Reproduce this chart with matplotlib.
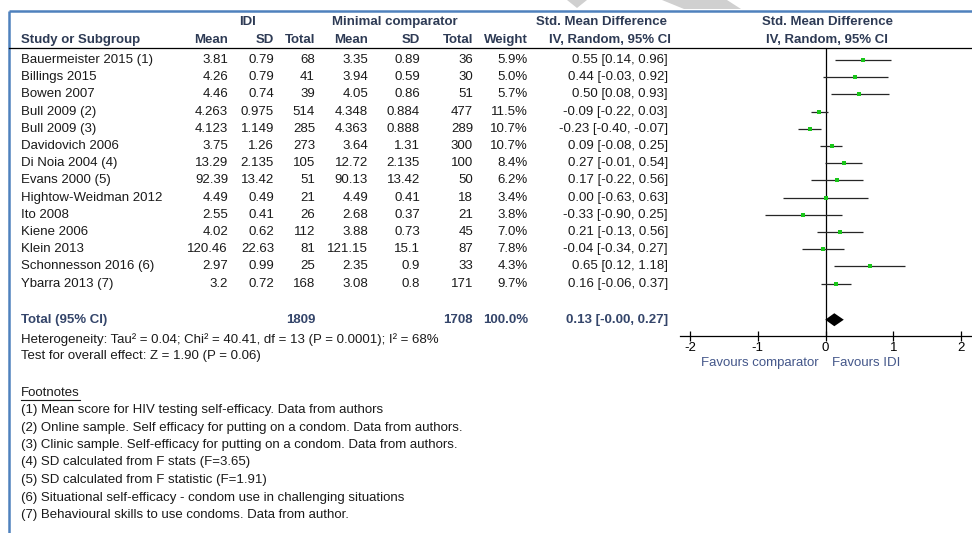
import matplotlib
matplotlib.use("Agg")
import matplotlib.pyplot as plt
from matplotlib.patches import Polygon
import numpy as np

plt.rcParams['font.family'] = ['Liberation Sans', 'DejaVu Sans']
plt.rcParams['axes.unicode_minus'] = False

# ---- data -------------------------------------------------------------
studies = ["Bauermeister 2015 (1)", "Billings 2015", "Bowen 2007", "Bull 2009 (2)",
           "Bull 2009 (3)", "Davidovich 2006", "Di Noia 2004 (4)", "Evans 2000 (5)",
           "Hightow-Weidman 2012", "Ito 2008", "Kiene 2006", "Klein 2013",
           "Schonnesson 2016 (6)", "Ybarra 2013 (7)"]
idi_mean = [3.81, 4.26, 4.46, 4.263, 4.123, 3.75, 13.29, 92.39, 4.49, 2.55, 4.02, 120.46, 2.97, 3.2]
idi_sd = [0.79, 0.79, 0.74, 0.975, 1.149, 1.26, 2.135, 13.42, 0.49, 0.41, 0.62, 22.63, 0.99, 0.72]
idi_n = [68, 41, 39, 514, 285, 273, 105, 51, 21, 26, 112, 81, 25, 168]
cmp_mean = [3.35, 3.94, 4.05, 4.348, 4.363, 3.64, 12.72, 90.13, 4.49, 2.68, 3.88, 121.15, 2.35, 3.08]
cmp_sd = [0.89, 0.59, 0.86, 0.884, 0.888, 1.31, 2.135, 13.42, 0.41, 0.37, 0.73, 15.1, 0.9, 0.8]
cmp_n = [36, 30, 51, 477, 289, 300, 100, 50, 18, 21, 45, 87, 33, 171]
weight = [5.9, 5.0, 5.7, 11.5, 10.7, 10.7, 8.4, 6.2, 3.4, 3.8, 7.0, 7.8, 4.3, 9.7]
smd = [0.55, 0.44, 0.50, -0.09, -0.23, 0.09, 0.27, 0.17, 0.00, -0.33, 0.21, -0.04, 0.65, 0.16]
ci_lo = [0.14, -0.03, 0.08, -0.22, -0.40, -0.08, -0.01, -0.22, -0.63, -0.90, -0.13, -0.34, 0.12, -0.06]
ci_hi = [0.96, 0.92, 0.93, 0.03, -0.07, 0.25, 0.54, 0.56, 0.63, 0.25, 0.56, 0.27, 1.18, 0.37]

total_idi_n = 1809
total_cmp_n = 1708
total_weight = 100.0
total_smd = 0.13
total_lo = -0.004
total_hi = 0.27

xticks = [-2, -1, 0, 1, 2]

heterogeneity = "Heterogeneity: Tau\u00b2 = 0.04; Chi\u00b2 = 40.41, df = 13 (P = 0.0001); I\u00b2 = 68%"
overall = "Test for overall effect: Z = 1.90 (P = 0.06)"
footnotes = ["(1) Mean score for HIV testing self-efficacy. Data from authors",
             "(2) Online sample. Self efficacy for putting on a condom. Data from authors.",
             "(3) Clinic sample. Self-efficacy for putting on a condom. Data from authors.",
             "(4) SD calculated from F stats (F=3.65)",
             "(5) SD calculated from F statistic (F=1.91)",
             "(6) Situational self-efficacy - condom use in challenging situations",
             "(7) Behavioural skills to use condoms. Data from author."]

# ---- layout (pixel units) ---------------------------------------------
W, H = 972, 533
FS = 9.5
ROW0, ROWH = 60.0, 17.2
TOTAL_IDX = 15.1
HEAD_COL = "#2e3b55"
TOTAL_COL = "#34456a"
BODY_COL = "#1a1a1a"
BORDER = "#4f81bd"

fig = plt.figure(figsize=(W / 100, H / 100), dpi=100)
bg = fig.add_axes([0, 0, 1, 1])
bg.set_xlim(0, W)
bg.set_ylim(H, 0)
bg.axis("off")


def row_y(i):
    return ROW0 + ROWH * i


def txt(x, y, s, ha="left", bold=False, color=BODY_COL, **kw):
    return bg.text(x, y, s, ha=ha, va="center", fontsize=FS,
                   fontweight="bold" if bold else "normal", color=color, **kw)


def fmt(v):
    return f"{v:g}"


def ci_text(e, lo, hi):
    return f"{e:.2f} [{lo:.2f}, {hi:.2f}]"


# faint grey shapes at the very top edge
bg.add_patch(Polygon([(567, 0), (587, 0), (577, 8)], closed=True, color="#d0d0d0", lw=0))
bg.add_patch(Polygon([(662, 0), (727, 0), (741, 9), (684, 9)], closed=True, color="#d0d0d0", lw=0))

# frame lines
bg.plot([9, W], [11, 11], color=BORDER, lw=1.8, solid_capstyle="butt")
bg.plot([9, 9], [11, H], color=BORDER, lw=1.8, solid_capstyle="butt")
bg.plot([9, W], [48, 48], color="black", lw=0.9)

# column positions (right edges)
X_NAME = 21
X_IM, X_IS, X_IN = 228, 274, 315
X_CM, X_CS, X_CN, X_W = 368, 420, 473, 528
X_CI = 668

# headers
txt(247, 22, "IDI", ha="center", bold=True, color=HEAD_COL)
txt(395, 22, "Minimal comparator", ha="center", bold=True, color=HEAD_COL)
txt(601, 22, "Std. Mean Difference", ha="center", bold=True, color=HEAD_COL)
txt(827, 22, "Std. Mean Difference", ha="center", bold=True, color=HEAD_COL)
txt(X_NAME, 40, "Study or Subgroup", bold=True, color=HEAD_COL)
for x, s in [(X_IM, "Mean"), (X_IS, "SD"), (X_IN, "Total"), (X_CM, "Mean"),
             (X_CS, "SD"), (X_CN, "Total"), (X_W, "Weight")]:
    txt(x, 40, s, ha="right", bold=True, color=HEAD_COL)
txt(610, 40, "IV, Random, 95% CI", ha="center", bold=True, color=HEAD_COL)
txt(827, 40, "IV, Random, 95% CI", ha="center", bold=True, color=HEAD_COL)

# study rows
for i, name in enumerate(studies):
    y = row_y(i)
    txt(X_NAME, y, name)
    txt(X_IM, y, fmt(idi_mean[i]), ha="right")
    txt(X_IS, y, fmt(idi_sd[i]), ha="right")
    txt(X_IN, y, str(idi_n[i]), ha="right")
    txt(X_CM, y, fmt(cmp_mean[i]), ha="right")
    txt(X_CS, y, fmt(cmp_sd[i]), ha="right")
    txt(X_CN, y, str(cmp_n[i]), ha="right")
    txt(X_W, y, f"{weight[i]:.1f}%", ha="right")
    txt(X_CI, y, ci_text(smd[i], ci_lo[i], ci_hi[i]), ha="right")

# total row
yt = row_y(TOTAL_IDX)
txt(X_NAME, yt, "Total (95% CI)", bold=True, color=TOTAL_COL)
txt(X_IN, yt, str(total_idi_n), ha="right", bold=True, color=TOTAL_COL)
txt(X_CN, yt, str(total_cmp_n), ha="right", bold=True, color=TOTAL_COL)
txt(X_W, yt, f"{total_weight:.1f}%", ha="right", bold=True, color=TOTAL_COL)
txt(X_CI, yt, ci_text(total_smd, total_lo, total_hi), ha="right", bold=True, color=TOTAL_COL)

txt(X_NAME, 340, heterogeneity)
txt(X_NAME, 356, overall)

fn = txt(X_NAME, 393, "Footnotes")
for k, line in enumerate(footnotes):
    txt(X_NAME, 410 + 17.5 * k, line)

# underline for the footnotes heading
fig.canvas.draw()
bb = fn.get_window_extent()
inv = bg.transData.inverted()
(x0, _), (x1, _) = inv.transform([(bb.x0, bb.y0), (bb.x1, bb.y0)])
bg.plot([x0, x1], [400, 400], color=BODY_COL, lw=0.8)

# ---- forest plot ------------------------------------------------------
PX_L, PX_R, PX_T, PX_B = 680, 972, 48, 336
ax = fig.add_axes([PX_L / W, (H - PX_B) / H, (PX_R - PX_L) / W, (PX_B - PX_T) / H])
ax.patch.set_alpha(0)
unit = (961 - 690) / 4.0
ax.set_xlim(-2 - (690 - PX_L) / unit, 2 + (PX_R - 961) / unit)
ax.set_ylim((PX_B - ROW0) / ROWH, (PX_T - ROW0) / ROWH)

ax.axvline(0, color="black", lw=0.9, zorder=1)
ys = np.arange(len(studies))
for i in range(len(studies)):
    ax.plot([ci_lo[i], ci_hi[i]], [ys[i], ys[i]], color="#262626", lw=0.9, zorder=2,
            solid_capstyle="butt")
# square side grows with study weight
sizes = (1.5 + 3.3 * np.sqrt(np.array(weight) / 11.5)) * 0.72
for i in range(len(studies)):
    ax.plot(smd[i], ys[i], marker="s", ms=sizes[i], color="#19c619", mec="#19c619",
            mew=0, zorder=3)

hd = 6.5 / ROWH
ax.add_patch(Polygon([(total_lo, TOTAL_IDX), (total_smd, TOTAL_IDX - hd),
                      (total_hi, TOTAL_IDX), (total_smd, TOTAL_IDX + hd)],
                     closed=True, color="black", lw=0, zorder=3))

for s in ["top", "left", "right"]:
    ax.spines[s].set_visible(False)
ax.spines["bottom"].set_linewidth(0.9)
ax.set_yticks([])
ax.set_xticks(xticks)
ax.set_xticklabels([str(t) for t in xticks])
ax.tick_params(axis="x", direction="inout", length=6.5, width=0.9, labelsize=FS,
               pad=1.0, colors="black")

txt(760, 363, "Favours comparator", ha="center", color="#44578a")
txt(866, 363, "Favours IDI", ha="center", color="#44578a")

fig.savefig("out.png", dpi=100)
